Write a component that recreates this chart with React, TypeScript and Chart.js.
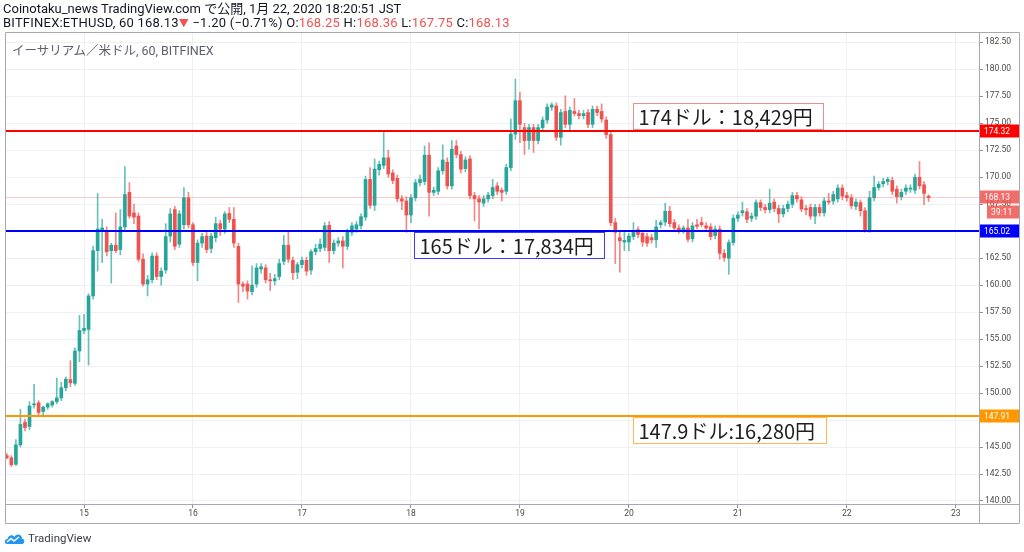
import React, { useEffect, useRef } from "react";
import Chart from "chart.js/auto";

// hours relative to Jan 15 00:00 (JST); first candle = Jan 14 07:00
const FIRST_HOUR = -17;
const dayTickHours = [0, 24, 48, 72, 96, 120, 144, 168, 192];
const dayLabels = ["15", "16", "17", "18", "19", "20", "21", "22", "23"];

const opens = [
  144.2, 144.0, 143.4, 145.2, 147.3, 146.9, 148.9, 149.1, 148.3, 148.7, 148.9, 149.2,
  149.55, 150.5, 151.25, 150.9, 153.9, 155.8, 155.9, 159.0, 163.2, 165.0, 165.0, 163.2,
  163.7, 163.3, 165.4, 168.6, 166.7, 166.4, 162.4, 160.1, 160.5, 162.7, 160.8, 161.4,
  164.55, 167.0, 163.8, 165.6, 168.1, 165.6, 162.1, 163.9, 164.55, 163.4, 164.4, 165.7,
  165.2, 166.65, 166.1, 163.6, 160.1, 160.1, 159.4, 160.1, 161.5, 161.6, 160.5, 160.4,
  160.8, 162.2, 163.7, 162.3, 161.2, 161.9, 162.3, 161.4, 163.1, 163.4, 163.5, 165.55,
  163.2, 163.9, 164.1, 163.6, 164.9, 165.2, 165.5, 166.3, 169.8, 167.4, 170.7, 171.1,
  171.8, 170.4, 169.9, 168.0, 167.8, 166.5, 168.1, 169.5, 169.6, 172.05, 168.6, 168.7,
  170.6, 171.4, 169.2, 172.9, 172.1, 170.8, 171.7, 168.3, 168.0, 167.6, 168.0, 168.3,
  169.2, 168.8, 168.7, 170.9, 174.0, 177.1, 174.6, 173.4, 174.6, 173.4, 174.6, 175.3,
  176.5, 176.6, 173.7, 176.1, 174.9, 176.1, 175.9, 175.7, 176.0, 174.9, 176.3, 176.1,
  175.3, 173.95, 165.8, 164.4, 164.0, 164.0, 164.5, 165.15, 164.8, 164.5, 164.4, 164.2,
  165.6, 165.85, 166.85, 165.8, 165.3, 165.1, 165.3, 164.3, 165.6, 165.8, 165.5, 165.4,
  164.6, 165.2, 162.95, 162.5, 163.95, 166.2, 166.7, 166.8, 166.2, 166.4, 167.65, 167.2,
  167.0, 167.7, 167.1, 166.6, 167.1, 167.5, 168.3, 167.9, 167.1, 167.2, 166.4, 167.2,
  166.7, 167.8, 167.8, 168.0, 169.0, 168.3, 168.1, 167.3, 167.65, 166.9, 165.0, 168.1,
  169.05, 169.4, 169.6, 169.7, 168.9, 168.2, 168.7, 168.9, 168.8, 170.0, 169.3, 168.25,
];
const highs = [
  144.4, 144.2, 145.7, 148.5, 147.6, 149.2, 150.8, 149.3, 148.8, 149.1, 149.3, 151.4,
  151.0, 151.5, 153.0, 154.2, 157.2, 157.3, 159.2, 163.6, 168.5, 166.1, 165.4, 163.9,
  166.7, 167.0, 171.0, 169.5, 167.5, 166.7, 162.9, 160.9, 163.0, 163.0, 161.6, 165.7,
  167.1, 167.3, 166.9, 169.05, 168.6, 165.8, 164.2, 164.8, 164.9, 164.8, 166.3, 166.0,
  166.8, 167.2, 167.2, 163.9, 160.3, 160.4, 161.8, 162.0, 162.0, 161.9, 161.1, 161.0,
  162.4, 164.6, 165.0, 162.6, 162.1, 162.6, 162.6, 163.3, 163.8, 164.3, 165.8, 165.9,
  164.2, 164.4, 164.5, 165.2, 165.8, 165.9, 166.6, 170.1, 170.9, 171.7, 171.5, 174.15,
  172.5, 170.7, 170.2, 168.3, 168.2, 168.4, 169.8, 170.2, 172.9, 173.2, 169.1, 170.9,
  173.0, 171.8, 173.4, 173.4, 172.4, 171.9, 172.0, 168.6, 168.3, 168.3, 168.6, 169.8,
  169.5, 169.0, 171.2, 175.4, 179.1, 177.9, 175.0, 174.9, 174.9, 174.9, 175.6, 176.8,
  176.9, 176.9, 176.3, 177.55, 176.5, 177.3, 176.2, 176.2, 176.3, 176.6, 176.6, 176.8,
  175.6, 174.2, 166.2, 164.9, 165.0, 164.8, 165.8, 165.4, 165.0, 164.8, 164.7, 166.0,
  166.0, 167.6, 167.3, 166.1, 165.6, 165.5, 166.1, 165.8, 166.1, 166.3, 165.8, 165.7,
  165.5, 165.5, 163.3, 164.2, 166.5, 166.8, 167.7, 167.1, 166.7, 167.9, 167.9, 167.5,
  168.9, 168.0, 167.4, 167.4, 167.8, 168.6, 168.6, 168.2, 167.4, 167.5, 167.5, 167.5,
  168.1, 168.5, 168.7, 169.3, 169.3, 168.6, 168.4, 168.0, 167.9, 167.2, 168.7, 170.1,
  169.6, 169.9, 170.0, 170.0, 169.2, 168.9, 169.3, 169.3, 170.3, 171.45, 169.6, 168.36,
];
const lows = [
  143.9, 143.2, 143.3, 145.0, 146.5, 146.6, 148.6, 147.8, 147.8, 148.5, 148.7, 149.0,
  149.3, 150.2, 150.6, 150.7, 152.9, 155.5, 152.6, 158.7, 161.3, 162.1, 162.7, 160.2,
  163.0, 162.8, 165.0, 166.2, 165.7, 162.2, 159.9, 159.0, 160.2, 160.5, 160.0, 161.1,
  164.0, 163.3, 163.5, 165.2, 165.3, 161.8, 160.4, 163.5, 163.0, 163.0, 164.0, 164.6,
  164.8, 165.8, 163.5, 158.4, 159.4, 158.7, 159.1, 159.8, 161.1, 160.2, 159.5, 160.0,
  160.5, 161.9, 162.1, 160.5, 160.6, 161.6, 160.9, 161.0, 162.8, 163.1, 163.2, 162.1,
  162.9, 163.6, 161.6, 163.3, 164.6, 164.9, 165.2, 166.0, 167.1, 166.9, 170.2, 170.8,
  170.0, 169.4, 167.7, 167.0, 164.9, 165.8, 167.8, 169.2, 169.3, 166.4, 168.3, 168.4,
  170.3, 168.9, 168.9, 171.8, 170.4, 170.5, 168.0, 165.95, 165.2, 167.3, 167.7, 168.0,
  168.4, 167.8, 168.4, 170.6, 173.5, 173.2, 172.1, 172.6, 172.3, 173.1, 174.3, 175.0,
  176.2, 173.4, 172.97, 174.6, 174.4, 175.7, 175.4, 175.4, 174.6, 174.6, 175.7, 175.1,
  173.6, 165.5, 162.0, 161.2, 163.2, 163.2, 164.2, 164.4, 163.6, 163.6, 163.9, 163.5,
  165.3, 165.5, 165.4, 165.0, 164.8, 164.8, 164.0, 164.0, 165.2, 165.4, 165.0, 164.2,
  164.3, 162.4, 162.2, 161.0, 163.7, 165.9, 166.4, 165.8, 165.9, 166.1, 166.9, 166.7,
  166.7, 166.8, 165.8, 166.3, 166.8, 167.2, 167.7, 166.8, 166.5, 166.1, 165.7, 166.4,
  166.4, 167.5, 167.5, 167.7, 167.9, 167.8, 167.1, 167.0, 166.4, 164.9, 164.9, 167.8,
  168.8, 169.1, 169.3, 168.4, 167.6, 167.9, 168.4, 168.6, 168.5, 168.9, 167.45, 167.75,
];
const closes = [
  144.0, 143.35, 145.2, 147.1, 146.8, 148.8, 149.0, 148.2, 148.7, 149.0, 149.2, 149.55,
  150.5, 151.3, 150.95, 153.9, 155.8, 156.0, 159.0, 163.2, 165.2, 165.3, 163.1, 163.7,
  163.2, 165.4, 168.4, 166.4, 166.3, 162.4, 160.1, 160.5, 162.7, 160.8, 161.3, 164.5,
  166.6, 163.6, 166.6, 168.1, 165.6, 162.1, 163.9, 164.5, 163.3, 164.55, 165.7, 165.2,
  166.6, 166.1, 163.9, 160.1, 159.9, 159.45, 160.0, 161.6, 161.7, 160.5, 160.4, 160.6,
  162.0, 163.7, 162.4, 161.15, 161.9, 162.3, 161.3, 163.1, 163.4, 163.8, 165.5, 163.2,
  163.9, 164.1, 163.6, 164.9, 165.5, 165.6, 166.35, 169.8, 167.4, 170.75, 171.2, 171.8,
  170.3, 169.7, 168.0, 167.8, 166.5, 168.1, 169.5, 169.8, 172.05, 168.6, 168.8, 170.6,
  171.6, 169.2, 172.6, 172.1, 170.75, 171.6, 168.3, 168.0, 167.7, 168.0, 168.35, 169.05,
  168.7, 168.6, 170.9, 174.0, 177.1, 174.9, 173.4, 174.6, 173.4, 174.6, 175.3, 176.5,
  176.7, 173.7, 176.0, 174.9, 176.2, 175.9, 175.7, 175.9, 174.9, 176.3, 176.0, 175.4,
  173.95, 165.8, 164.9, 164.1, 164.15, 164.55, 165.0, 164.7, 164.0, 163.9, 164.2, 165.4,
  165.8, 166.85, 165.7, 165.3, 165.1, 165.3, 164.25, 165.5, 165.45, 165.6, 165.3, 164.5,
  165.2, 162.95, 162.55, 163.95, 166.2, 166.5, 166.9, 166.1, 166.4, 167.65, 167.2, 167.0,
  167.6, 167.1, 166.6, 167.1, 167.5, 168.3, 168.0, 167.05, 167.0, 166.4, 167.2, 166.7,
  167.8, 167.7, 168.4, 169.0, 168.25, 168.1, 167.35, 167.7, 166.9, 165.0, 168.1, 169.05,
  169.35, 169.6, 169.8, 168.7, 168.2, 168.6, 169.0, 169.0, 170.0, 169.2, 168.5, 168.13,
];

const yTicks = [
  140, 142.5, 145, 147.5, 150, 152.5, 155, 157.5, 160, 162.5, 165, 167.5, 170, 172.5,
  175, 177.5, 180, 182.5,
];

const levelPrices = [174.32, 165.02, 147.91];
const levelColors = ["#ff0000", "#0000ff", "#ff9800"];
const noteTexts = ["174ドル：18,429円", "165ドル：17,834円", "147.9ドル:16,280円"];
const noteHours = [121, 72.7, 121];
const noteSides = ["above", "below", "below"];
const noteBorders = ["#f08c8c", "#3b3bff", "#ffb84d"];
const lastPrice = 168.13;
const countdown = "39:11";

const GREEN = "#26a69a";
const RED = "#ef5350";
const GREEN_W = "rgba(38,166,154,0.7)";
const RED_W = "rgba(239,83,80,0.7)";
const AXIS_FONT = "Roboto, 'DejaVu Sans', sans-serif";

export default function App() {
  const ref = useRef<HTMLCanvasElement | null>(null);

  useEffect(() => {
    if (!ref.current) return;
    const hours = opens.map((_, i) => FIRST_HOUR + i);
    const up = opens.map((o, i) => closes[i] >= o);

    const overlay = {
      id: "overlay",
      afterDatasetsDraw(chart: any) {
        const { ctx, chartArea: a, scales } = chart;
        const x = scales.x;
        const y = scales.y;
        ctx.save();
        // last price line
        const lp = Math.round(y.getPixelForValue(lastPrice)) + 0.5;
        ctx.strokeStyle = "rgba(239,83,80,0.3)";
        ctx.lineWidth = 1;
        ctx.beginPath();
        ctx.moveTo(a.left, lp);
        ctx.lineTo(a.right, lp);
        ctx.stroke();
        // level lines
        levelPrices.forEach((p, i) => {
          const py = Math.round(y.getPixelForValue(p));
          ctx.strokeStyle = levelColors[i];
          ctx.lineWidth = 2;
          ctx.beginPath();
          ctx.moveTo(a.left, py);
          ctx.lineTo(a.right, py);
          ctx.stroke();
        });
        // note boxes
        ctx.font = "20px 'Noto Sans CJK JP', sans-serif";
        ctx.textBaseline = "middle";
        noteTexts.forEach((t, i) => {
          const py = y.getPixelForValue(levelPrices[i]);
          const left = Math.round(x.getPixelForValue(noteHours[i])) + 0.5;
          const w = Math.round(ctx.measureText(t).width) + 16;
          const h = 26;
          const top =
            noteSides[i] === "above"
              ? Math.round(py - 2 - h) + 0.5
              : Math.round(py + 1.5) + 0.5;
          ctx.fillStyle = "#ffffff";
          ctx.fillRect(left, top, w, h);
          ctx.strokeStyle = noteBorders[i];
          ctx.lineWidth = 1;
          ctx.strokeRect(left, top, w, h);
          ctx.fillStyle = "#1e1e1e";
          ctx.fillText(t, left + 5, top + h / 2 + 1);
        });
        ctx.restore();
      },
      afterDraw(chart: any) {
        const { ctx, chartArea: a, scales } = chart;
        const y = scales.y;
        const outerR = chart.width - 5;
        const outerB = chart.height - 29;
        ctx.save();
        // cover the axis label that spills below the time axis
        ctx.fillStyle = "#ffffff";
        ctx.fillRect(a.right + 1, a.bottom + 1, outerR - a.right - 1, outerB - a.bottom - 1);
        // frame
        ctx.strokeStyle = "#a6a9b1";
        ctx.lineWidth = 1;
        ctx.beginPath();
        ctx.rect(a.left + 0.5, a.top + 0.5, outerR - a.left, outerB - a.top);
        ctx.moveTo(a.right + 0.5, a.top);
        ctx.lineTo(a.right + 0.5, outerB);
        ctx.moveTo(a.left, a.bottom + 0.5);
        ctx.lineTo(outerR, a.bottom + 0.5);
        ctx.stroke();
        // price tags
        ctx.font = `8.5px ${AXIS_FONT}`;
        ctx.textBaseline = "middle";
        const tag = (v: number, text: string, bg: string, x0: number, dy = 0) => {
          const py = Math.round(y.getPixelForValue(v)) + dy;
          ctx.fillStyle = bg;
          ctx.fillRect(x0, py - 6.5, outerR - x0, 13);
          ctx.fillStyle = "#ffffff";
          ctx.fillText(text, x0 + 4, py + 0.5);
        };
        levelPrices.forEach((p, i) => tag(p, p.toFixed(2), levelColors[i], a.right + 1));
        tag(lastPrice, lastPrice.toFixed(2), "rgba(239,83,80,0.85)", a.right + 1);
        tag(lastPrice, countdown, "rgba(239,83,80,0.85)", a.right + 8, 15);
        ctx.restore();
      },
    };

    const chart = new Chart(ref.current, {
      type: "bar",
      data: {
        datasets: [
          {
            label: "wick",
            data: hours.map((h, i) => ({ x: h, y: [lows[i], highs[i]] })) as any,
            backgroundColor: up.map((u) => (u ? GREEN_W : RED_W)),
            barThickness: 1,
            grouped: false,
            order: 2,
          } as any,
          {
            label: "body",
            data: hours.map((h, i) => ({ x: h, y: [opens[i], closes[i]] })) as any,
            backgroundColor: up.map((u) => (u ? GREEN : RED)),
            barThickness: 3,
            minBarLength: 1,
            grouped: false,
            order: 1,
          } as any,
        ],
      },
      options: {
        animation: false,
        responsive: false,
        maintainAspectRatio: false,
        layout: { padding: { left: 5, top: 32, right: 5, bottom: 29 } },
        plugins: {
          legend: { display: false },
          tooltip: { enabled: false },
        },
        scales: {
          x: {
            type: "linear",
            min: -17.4,
            max: 197.1,
            offset: false,
            grid: {
              offset: false,
              color: "#eef0f4",
              tickColor: "#8f929b",
              tickLength: 4,
            },
            border: { display: false },
            afterBuildTicks: (axis: any) => {
              axis.ticks = dayTickHours.map((v) => ({ value: v }));
            },
            afterFit: (axis: any) => {
              axis.height = 19;
            },
            ticks: {
              maxRotation: 0,
              autoSkip: false,
              padding: 1,
              color: "#4a4a4a",
              font: { size: 8.5, family: AXIS_FONT },
              callback: (v: any) => dayLabels[dayTickHours.indexOf(Number(v))] ?? "",
            },
          },
          y: {
            type: "linear",
            position: "right",
            min: 139.72,
            max: 183.46,
            grid: {
              color: "#eef0f4",
              tickColor: "#8f929b",
              tickLength: 4,
            },
            border: { display: false },
            afterBuildTicks: (axis: any) => {
              axis.ticks = yTicks.map((v) => ({ value: v }));
            },
            afterFit: (axis: any) => {
              axis.width = 40;
            },
            ticks: {
              autoSkip: false,
              padding: 2,
              color: "#4a4a4a",
              font: { size: 8.5, family: AXIS_FONT },
              callback: (v: any) => Number(v).toFixed(2),
            },
          },
        },
      },
      plugins: [overlay],
    });
    return () => chart.destroy();
  }, []);

  const head: React.CSSProperties = {
    position: "absolute",
    left: 3,
    top: 2,
    fontFamily: "Roboto, 'Noto Sans CJK JP', sans-serif",
    fontSize: 13,
    lineHeight: "14px",
    color: "#131722",
    whiteSpace: "nowrap",
  };
  const red = { color: "#ef5350" };

  return (
    <div
      style={{
        position: "fixed",
        left: 0,
        top: 0,
        width: 1024,
        height: 552,
        background: "#ffffff",
        overflow: "hidden",
      }}
    >
      <canvas ref={ref} width={1024} height={552} style={{ position: "absolute", left: 0, top: 0 }} />
      <div style={head}>
        <div>Coinotaku_news TradingView.com で公開, 1月 22, 2020 18:20:51 JST</div>
        <div style={{ letterSpacing: "0.22px" }}>
          BITFINEX:ETHUSD, 60 168.13<span style={{ ...red, fontSize: 10 }}>▼</span> −1.20 (−0.71%) O:
          <span style={red}>168.25</span> H:<span style={red}>168.36</span> L:
          <span style={red}>167.75</span> C:<span style={red}>168.13</span>
        </div>
      </div>
      <div
        style={{
          position: "absolute",
          left: 12,
          top: 40,
          fontFamily: "Roboto, 'Noto Sans CJK JP', sans-serif",
          fontSize: 12.5,
          color: "#5d606b",
          whiteSpace: "nowrap",
        }}
      >
        イーサリアム／米ドル, 60, BITFINEX
      </div>
      <div style={{ position: "absolute", left: 4, top: 531, display: "flex", alignItems: "center" }}>
        <svg width="21" height="13" viewBox="0 0 21 13">
          <path
            d="M3 12 C0 12 0 7 3.5 7 C4 3 9 2 10.5 5 C12 1 18 2 18 6.5 C21 7 21 12 18 12 Z"
            fill="#2196f3"
          />
          <path d="M3 10 L7 6.5 L10 9 L15 5" stroke="#ffffff" strokeWidth="1.6" fill="none" />
        </svg>
        <span
          style={{
            marginLeft: 3,
            fontFamily: "Roboto, sans-serif",
            fontSize: 11.5,
            color: "#3a3d45",
          }}
        >
          TradingView
        </span>
      </div>
    </div>
  );
}
